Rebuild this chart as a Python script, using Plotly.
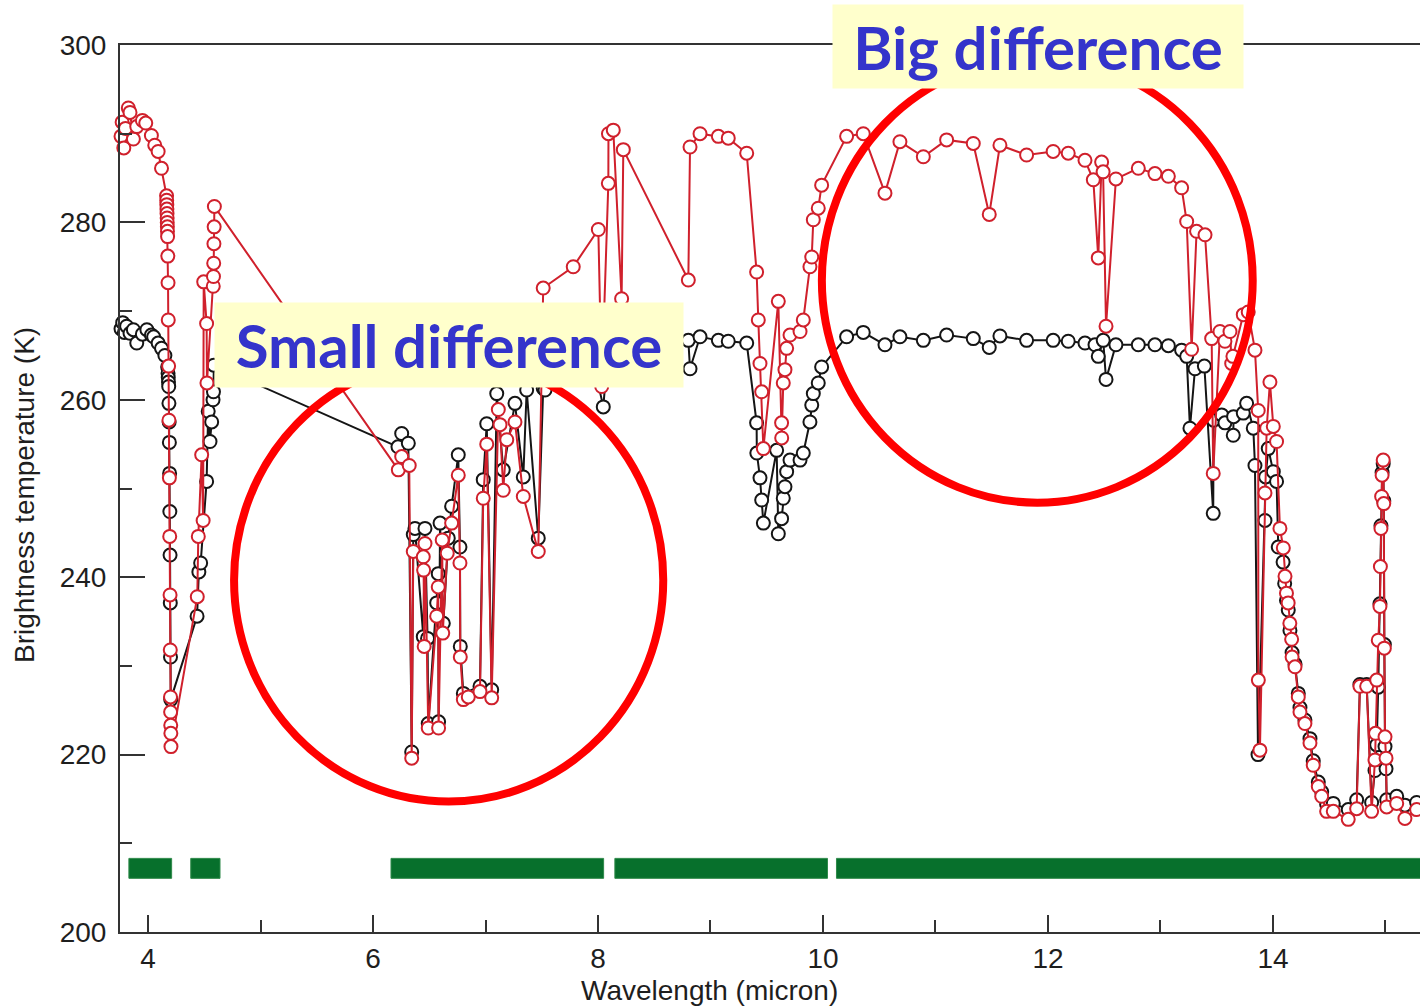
import plotly.graph_objects as go

# ---- spectral brightness temperatures (wavelength in micron, Tb in K) ----
black_wl = [
    3.76, 3.775, 3.79, 3.81, 3.84, 3.87, 3.90, 3.95, 3.99, 4.03, 4.05, 4.09, 4.12, 4.15,
    4.175, 4.178, 4.18, 4.182, 4.184, 4.186, 4.188, 4.19, 4.192, 4.194, 4.196, 4.198, 4.2, 4.202,
    4.436, 4.452, 4.468, 4.521, 4.535, 4.551, 4.566, 4.578, 4.582, 4.585,
    6.222, 6.255, 6.314, 6.344, 6.358, 6.373, 6.447, 6.462, 6.485, 6.491, 6.566, 6.58, 6.583,
    6.596, 6.625, 6.669, 6.699, 6.758, 6.773, 6.776, 6.803, 6.951, 6.98, 7.011, 7.055, 7.1,
    7.158, 7.262, 7.336, 7.366, 7.469, 7.513, 7.529, 7.65, 7.8, 7.95, 8.047, 8.092, 8.136,
    8.21, 8.225, 8.5, 8.803, 8.818, 8.907, 9.07, 9.158, 9.322, 9.41, 9.412, 9.44, 9.455, 9.47,
    9.588, 9.603, 9.632, 9.647, 9.662, 9.677, 9.707, 9.796, 9.825, 9.884, 9.9, 9.914, 9.958,
    9.988, 10.21, 10.358, 10.551, 10.684, 10.892, 11.099, 11.336, 11.478, 11.573, 11.81,
    12.046, 12.18, 12.329, 12.418, 12.447, 12.491, 12.516, 12.604, 12.803, 12.951, 13.07,
    13.188, 13.233, 13.262, 13.307, 13.39, 13.469, 13.472, 13.544, 13.573, 13.647, 13.65,
    13.736, 13.766, 13.825, 13.84, 13.867, 13.929, 13.935, 13.958, 14.003, 14.032, 14.047,
    14.09, 14.104, 14.12, 14.136, 14.151, 14.17, 14.196, 14.225, 14.24, 14.284, 14.329,
    14.358, 14.403, 14.433, 14.477, 14.536, 14.669, 14.744, 14.773, 14.833, 14.877, 14.907,
    14.922, 14.936, 14.951, 14.96, 14.97, 14.98, 14.985, 14.99, 14.996, 15.005, 15.011,
    15.1, 15.173, 15.277,
]
black_tb = [
    268.0, 268.7, 267.6, 268.3, 267.5, 267.9, 266.4, 267.4, 267.9, 267.3, 267.1, 266.4, 265.8, 265.0,
    263.7, 263.0, 262.5, 262.0, 261.5, 259.6, 257.5, 255.2, 251.7, 247.4, 242.5, 237.1, 231.0, 226.2,
    235.6, 240.6, 241.6, 250.8, 258.7, 255.3, 257.5, 260.0, 260.9, 263.9,
    254.7, 256.2, 255.1, 220.3, 244.8, 245.5, 233.3, 245.5, 233.1, 223.5, 237.1, 240.4, 223.7,
    246.1, 234.8, 244.4, 248.0, 253.8, 243.4, 232.2, 226.9, 227.7, 251.0, 257.3, 227.3, 260.7,
    252.1, 259.6, 251.3, 261.1, 244.4, 261.3, 261.1, 263.0, 264.0, 264.8, 259.2, 266.0, 266.8,
    263.5, 266.5, 266.0, 266.7, 263.5, 267.1, 266.7, 266.6, 266.4, 257.4, 254.0, 251.2, 248.7, 246.1,
    254.3, 244.9, 246.6, 248.9, 250.2, 251.9, 253.2, 253.2, 254.0, 257.5, 259.4, 260.7, 261.9,
    263.7, 267.1, 267.6, 266.2, 267.1, 266.7, 267.3, 266.9, 265.9, 267.2, 266.7,
    266.7, 266.6, 266.4, 266.2, 264.9, 266.7, 262.3, 266.2, 266.2, 266.2, 266.1,
    265.6, 264.9, 256.8, 263.5, 263.8, 247.2, 257.7, 258.3, 257.4, 256.0, 258.1,
    258.5, 259.6, 256.8, 252.6, 220.0, 246.4, 251.3, 254.5, 251.9, 250.8, 243.4,
    241.7, 239.3, 237.4, 236.3, 234.0, 231.5, 230.2, 226.9, 225.3, 223.9, 221.8,
    219.3, 216.9, 215.8, 214.4, 214.5, 213.8, 214.9, 227.9, 227.9, 214.6, 218.2,
    221.1, 227.6, 237.0, 245.8, 251.8, 252.8, 248.6, 232.4, 220.9, 218.4, 214.9,
    215.3, 214.3, 214.6,
]

red_wl = [
    3.76, 3.77, 3.785, 3.80, 3.825, 3.84, 3.87, 3.90, 3.95, 3.98, 4.03, 4.06, 4.09, 4.12,
    4.165, 4.166, 4.167, 4.168, 4.169, 4.17, 4.171, 4.172, 4.173, 4.174, 4.176, 4.178, 4.18,
    4.183, 4.186, 4.19, 4.193, 4.196, 4.198, 4.2, 4.201, 4.202, 4.203, 4.204,
    4.438, 4.447, 4.477, 4.49, 4.495, 4.521, 4.524, 4.58, 4.582, 4.584, 4.586, 4.588, 4.59,
    6.225, 6.255, 6.322, 6.344, 6.358, 6.447, 6.45, 6.455, 6.462, 6.491, 6.566, 6.58, 6.583,
    6.615, 6.62, 6.66, 6.699, 6.758, 6.773, 6.776, 6.803, 6.847, 6.951, 6.98, 7.011, 7.055,
    7.114, 7.129, 7.158, 7.189, 7.262, 7.336, 7.469, 7.513, 7.78, 8.003, 8.033, 8.092, 8.093,
    8.136, 8.21, 8.225, 8.803, 8.818, 8.907, 9.07, 9.158, 9.322, 9.41, 9.425, 9.44, 9.455,
    9.47, 9.603, 9.632, 9.633, 9.647, 9.662, 9.677, 9.707, 9.796, 9.825, 9.884, 9.9, 9.914,
    9.958, 9.988, 10.21, 10.358, 10.551, 10.684, 10.892, 11.099, 11.336, 11.478, 11.573,
    11.81, 12.046, 12.18, 12.329, 12.403, 12.447, 12.477, 12.49, 12.516, 12.604, 12.803,
    12.951, 13.07, 13.188, 13.233, 13.277, 13.321, 13.396, 13.455, 13.469, 13.529, 13.573,
    13.618, 13.633, 13.644, 13.736, 13.78, 13.84, 13.869, 13.87, 13.884, 13.929, 13.944,
    13.973, 14.003, 14.032, 14.062, 14.092, 14.107, 14.12, 14.135, 14.15, 14.166, 14.17,
    14.196, 14.225, 14.24, 14.284, 14.329, 14.358, 14.403, 14.433, 14.477, 14.536, 14.669,
    14.744, 14.773, 14.833, 14.877, 14.907, 14.912, 14.922, 14.936, 14.951, 14.955, 14.96,
    14.966, 14.97, 14.98, 14.985, 14.99, 14.996, 15.005, 15.011, 15.1, 15.173, 15.277,
]
red_tb = [
    289.7, 291.3, 288.4, 290.6, 292.9, 292.4, 289.4, 290.8, 291.5, 291.2, 289.8, 288.7, 288.0, 286.1,
    283.0, 282.5, 282.0, 281.5, 281.0, 280.5, 280.0, 279.5, 279.0, 278.4, 276.2, 273.2, 269.0,
    263.8, 257.7, 251.2, 244.6, 238.0, 231.8, 226.5, 224.8, 223.3, 222.4, 220.9,
    237.8, 244.6, 253.8, 246.4, 273.3, 268.6, 261.9, 272.8, 273.9, 275.4, 277.6, 279.5, 281.8,
    252.1, 253.6, 252.6, 219.6, 242.9, 242.3, 240.8, 232.2, 243.8, 223.0, 235.6, 238.9, 223.0,
    244.2, 233.7, 242.7, 246.1, 251.5, 241.6, 231.0, 226.2, 226.5, 227.1, 248.9, 255.0, 226.4,
    258.9, 257.2, 249.8, 255.5, 257.5, 249.1, 242.9, 272.6, 275.0, 279.2, 261.5, 284.4, 290.0,
    290.4, 271.4, 288.2, 273.5, 288.5, 290.0, 289.7, 289.5, 287.8, 274.4, 269.0, 264.1, 260.9,
    254.5, 271.1, 257.4, 255.7, 261.9, 263.4, 265.8, 267.3, 267.7, 269.0, 275.0, 276.1, 280.3,
    281.6, 284.2, 289.7, 290.0, 283.3, 289.1, 287.4, 289.3, 288.9, 280.9, 288.7,
    287.6, 288.0, 287.8, 287.0, 284.8, 276.0, 286.8, 285.7, 268.3, 284.9, 286.1,
    285.5, 285.2, 283.9, 280.1, 265.7, 279.0, 278.6, 266.9, 251.7, 267.7, 266.6,
    267.7, 264.1, 264.9, 269.6, 269.9, 265.6, 258.8, 228.4, 220.5, 249.5, 256.8,
    262.0, 257.0, 255.3, 245.5, 243.3, 240.1, 238.2, 237.1, 234.8, 233.0, 231.0,
    229.9, 226.5, 224.8, 223.5, 221.3, 218.8, 216.4, 215.3, 213.6, 213.6, 212.7,
    213.9, 227.7, 227.7, 213.6, 219.4, 222.4, 228.4, 232.9, 236.7, 241.2, 245.5,
    249.1, 251.5, 253.2, 248.3, 232.0, 222.0, 219.6, 214.1, 214.5, 212.8, 213.8,
]

# spectral bands marked along the bottom of the plot (start, end in micron)
band_start = [3.83, 4.38, 6.16, 8.15, 10.12]
band_end = [4.21, 4.64, 8.05, 10.04, 15.45]
band_low, band_high = 206.05, 208.3

x_ticks = [4, 6, 8, 10, 12, 14]
y_ticks = [200, 220, 240, 260, 280, 300]

RED = "#d0202c"
BLACK = "#151515"
AXIS = "#333333"
TEXT = "#1e1e1e"
LABEL_FONT = "Liberation Sans, Arial, Helvetica, sans-serif"
CALLOUT_FONT = "Comic Sans MS, Lato, Noto Sans, sans-serif"

fig = go.Figure()

for wl, tb, col in [(black_wl, black_tb, BLACK), (red_wl, red_tb, RED)]:
    fig.add_trace(go.Scatter(
        x=wl, y=tb, mode="lines+markers", cliponaxis=False,
        line=dict(color=col, width=2),
        marker=dict(symbol="circle", size=13, color="white", line=dict(color=col, width=2)),
        showlegend=False, hoverinfo="skip",
    ))

shapes = []
for x0, x1 in zip(band_start, band_end):
    shapes.append(dict(type="rect", xref="x", yref="y", x0=x0, x1=x1,
                       y0=band_low, y1=band_high, fillcolor="#07702c",
                       line=dict(color="#2f8a4a", width=1), layer="above"))

# highlight rings around the two regions of interest
shapes.append(dict(type="circle", xref="x", yref="y", x0=4.765, x1=8.58,
                   y0=214.7, y1=264.6, line=dict(color="#ff0000", width=8),
                   fillcolor="rgba(0,0,0,0)", layer="above"))
shapes.append(dict(type="circle", xref="x", yref="y", x0=9.99, x1=13.82,
                   y0=248.4, y1=298.5, line=dict(color="#ff0000", width=8),
                   fillcolor="rgba(0,0,0,0)", layer="above"))

annotations = [
    dict(text="Big difference", xref="paper", yref="paper", x=0.7062, y=0.9983,
         xanchor="center", yanchor="middle", showarrow=False, width=410, height=83,
         bgcolor="#ffffcc", borderpad=0,
         font=dict(family=CALLOUT_FONT, size=60, color="#3434cb", weight="bold")),
    dict(text="Small difference", xref="paper", yref="paper", x=0.2531, y=0.6618,
         xanchor="center", yanchor="middle", showarrow=False, width=468, height=84,
         bgcolor="#ffffcc", borderpad=0,
         font=dict(family=CALLOUT_FONT, size=60, color="#3434cb", weight="bold")),
    dict(text="Wavelength (micron)", xref="paper", yref="paper", x=0.4531, y=-0.0665,
         xanchor="center", yanchor="middle", showarrow=False,
         font=dict(family=LABEL_FONT, size=28, color=TEXT)),
    dict(text="Brightness temperature (K)", xref="paper", yref="paper", x=-0.0731, y=0.4927,
         xanchor="center", yanchor="middle", showarrow=False, textangle=-90,
         font=dict(family=LABEL_FONT, size=28, color=TEXT)),
]

fig.update_layout(
    width=1420, height=1008, autosize=False,
    margin=dict(l=120, r=0, t=45, b=76),
    paper_bgcolor="white", plot_bgcolor="white",
    shapes=shapes, annotations=annotations,
    xaxis=dict(range=[3.751, 15.307], tickvals=x_ticks, ticktext=[str(v) for v in x_ticks],
               ticks="inside", ticklen=17, tickwidth=2, tickcolor=AXIS,
               minor=dict(dtick=1, tick0=3, ticks="inside", ticklen=12, tickwidth=2, tickcolor=AXIS),
               showline=True, linecolor=AXIS, linewidth=2, mirror=True,
               showgrid=False, zeroline=False,
               tickfont=dict(family=LABEL_FONT, size=28, color=TEXT)),
    yaxis=dict(range=[200, 300], tickvals=y_ticks, ticktext=[str(v) for v in y_ticks],
               ticks="inside", ticklen=25, tickwidth=2, tickcolor=AXIS,
               minor=dict(dtick=10, tick0=200, ticks="inside", ticklen=12, tickwidth=2, tickcolor=AXIS),
               showline=True, linecolor=AXIS, linewidth=2, mirror=False,
               showgrid=False, zeroline=False, ticklabelstandoff=6,
               tickfont=dict(family=LABEL_FONT, size=28, color=TEXT)),
)

fig.write_html("out.html")
